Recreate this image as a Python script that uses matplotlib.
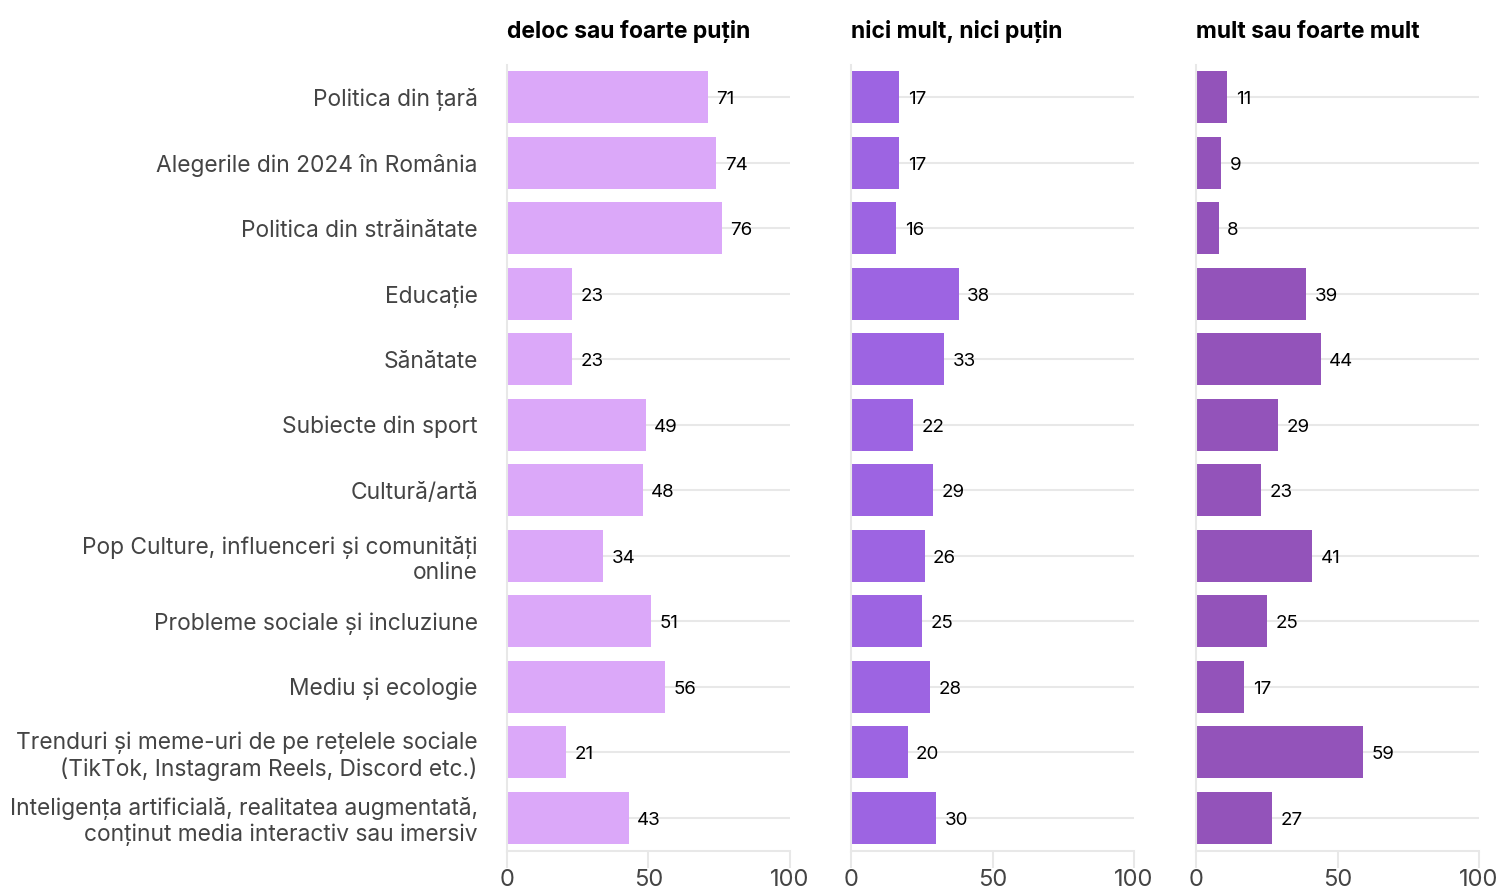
import matplotlib.pyplot as plt

categories = [
    "Politica din țară",
    "Alegerile din 2024 în România",
    "Politica din străinătate",
    "Educație",
    "Sănătate",
    "Subiecte din sport",
    "Cultură/artă",
    "Pop Culture, influenceri și comunități\nonline",
    "Probleme sociale și incluziune",
    "Mediu și ecologie",
    "Trenduri și meme-uri de pe rețelele sociale\n(TikTok, Instagram Reels, Discord etc.)",
    "Inteligența artificială, realitatea augmentată,\nconținut media interactiv sau imersiv",
]
deloc = [71, 74, 76, 23, 23, 49, 48, 34, 51, 56, 21, 43]
nici = [17, 17, 16, 38, 33, 22, 29, 26, 25, 28, 20, 30]
mult = [11, 9, 8, 39, 44, 29, 23, 41, 25, 17, 59, 27]

titles = ["deloc sau foarte puțin", "nici mult, nici puțin", "mult sau foarte mult"]
colors = ["#dba8f9", "#9d64e2", "#9353ba"]
series = [deloc, nici, mult]

plt.rcParams['font.family'] = ['Inter', 'DejaVu Sans']

fig = plt.figure(figsize=(14.99, 8.89), dpi=100)
lefts = [507, 851, 1196]
W, H = 1499, 889
grid_c = "#e8e8e8"
pos = list(range(len(categories)))

for k in range(3):
    ax = fig.add_axes([lefts[k] / W, 1 - 850.5 / H, 283 / W, 786 / H])
    ax.barh(pos, series[k], height=0.8, color=colors[k], zorder=2)
    for i, v in enumerate(series[k]):
        ax.text(v + 3.0, i + 0.04, str(v), va="center", ha="left",
                fontsize=13.5, color="black", zorder=3)
    ax.set_xlim(0, 100)
    ax.set_ylim(len(categories) - 0.5, -0.5)
    ax.set_xticks([0, 50, 100])
    ax.set_yticks(pos)
    for i in pos:
        ax.axhline(i, color=grid_c, lw=1.5, zorder=1)
    if k == 0:
        ax.set_yticklabels(categories, fontsize=16.4, color="#444444",
                           linespacing=1.2)
    else:
        ax.set_yticklabels([])
    ax.tick_params(axis="y", length=0, pad=21)
    ax.tick_params(axis="x", length=12, width=1.5, color=grid_c,
                   labelsize=17, labelcolor="#444444", pad=1)
    for s in ["top", "right"]:
        ax.spines[s].set_visible(False)
    ax.spines["left"].set_color(grid_c)
    ax.spines["bottom"].set_color(grid_c)
    ax.spines["left"].set_linewidth(1.5)
    ax.spines["bottom"].set_linewidth(1.5)
    ax.set_title(titles[k], loc="left", fontsize=16.5, fontweight="bold",
                 color="black", pad=19, x=0)

fig.savefig("out.png", dpi=100)
